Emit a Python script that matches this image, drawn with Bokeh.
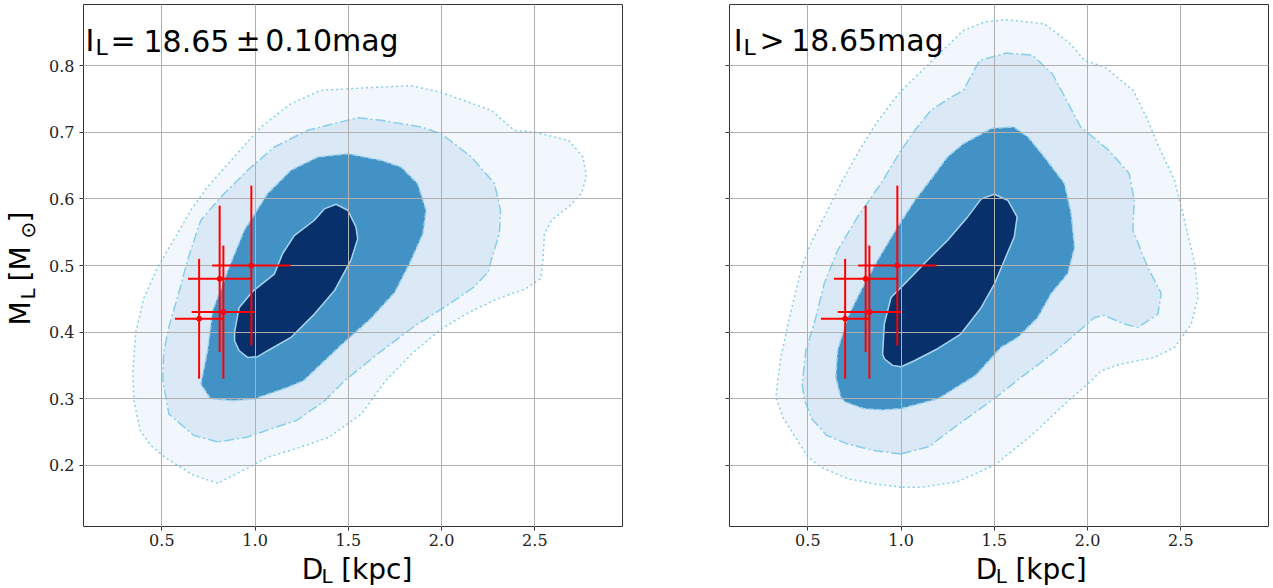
import numpy as np
from bokeh.plotting import figure
from bokeh.models import Label, FixedTicker, PrintfTickFormatter
from bokeh.layouts import row, column
from bokeh.core.properties import value
from bokeh.embed import file_html
from bokeh.resources import INLINE

# ---------------- data ----------------
x_ticks = [0.5, 1.0, 1.5, 2.0, 2.5]
y_ticks = [0.2, 0.3, 0.4, 0.5, 0.6, 0.7, 0.8]

# measured lens solutions (red crosses)
eb_D = [0.70, 0.81, 0.83, 0.98]
eb_M = [0.42, 0.48, 0.43, 0.50]
eb_Derr = [0.13, 0.17, 0.17, 0.21]
eb_Merr = [0.09, 0.11, 0.10, 0.12]

# left panel (I_L = 18.65 +- 0.10 mag): contour outlines, outer -> inner
left_c1_D = [0.80, 0.67, 0.516, 0.44, 0.384, 0.35, 0.345, 0.36, 0.405, 0.477, 0.584, 0.66, 0.745, 0.888, 1.031, 1.192, 1.353, 1.604, 1.836, 1.998, 2.266, 2.39, 2.50, 2.68, 2.758, 2.776, 2.75, 2.68, 2.59, 2.552, 2.543, 2.53, 2.45, 2.30, 2.15, 2.0, 1.85, 1.70, 1.57, 1.396, 1.22, 1.066, 0.956]
left_c1_M = [0.173, 0.185, 0.212, 0.23, 0.252, 0.297, 0.34, 0.40, 0.452, 0.497, 0.548, 0.585, 0.618, 0.663, 0.708, 0.743, 0.763, 0.767, 0.770, 0.760, 0.733, 0.703, 0.70, 0.688, 0.663, 0.633, 0.608, 0.588, 0.568, 0.548, 0.508, 0.48, 0.465, 0.45, 0.43, 0.405, 0.37, 0.327, 0.277, 0.242, 0.225, 0.212, 0.195]
left_c2_D = [0.80, 0.67, 0.538, 0.505, 0.51, 0.54, 0.584, 0.638, 0.709, 0.817, 0.96, 1.103, 1.282, 1.55, 1.676, 1.89, 1.998, 2.16, 2.284, 2.316, 2.31, 2.266, 2.25, 2.17, 2.03, 1.86, 1.67, 1.48, 1.374, 1.22, 1.088, 0.956]
left_c2_M = [0.235, 0.245, 0.277, 0.327, 0.37, 0.41, 0.452, 0.508, 0.568, 0.603, 0.643, 0.678, 0.703, 0.722, 0.718, 0.708, 0.698, 0.663, 0.623, 0.583, 0.548, 0.508, 0.49, 0.467, 0.44, 0.41, 0.37, 0.327, 0.297, 0.267, 0.255, 0.242]
left_c3_D = [0.89, 1.0, 1.176, 1.26, 1.46, 1.62, 1.75, 1.837, 1.90, 1.917, 1.872, 1.783, 1.676, 1.497, 1.336, 1.192, 1.067, 0.942, 0.853, 0.772, 0.745, 0.709, 0.76]
left_c3_M = [0.297, 0.30, 0.317, 0.327, 0.38, 0.42, 0.46, 0.508, 0.548, 0.583, 0.623, 0.648, 0.658, 0.668, 0.663, 0.643, 0.608, 0.553, 0.492, 0.432, 0.372, 0.322, 0.30]
left_c4_D = [0.89, 0.915, 0.99, 1.103, 1.148, 1.21, 1.318, 1.371, 1.434, 1.497, 1.541, 1.55, 1.514, 1.425, 1.318, 1.192, 1.067, 1.014, 0.96, 0.915, 0.89]
left_c4_M = [0.40, 0.437, 0.462, 0.487, 0.518, 0.545, 0.568, 0.585, 0.592, 0.583, 0.558, 0.54, 0.508, 0.462, 0.427, 0.392, 0.372, 0.363, 0.362, 0.372, 0.387]

# right panel (I_L > 18.65 mag)
right_c1_D = [1.0, 0.856, 0.713, 0.57, 0.498, 0.445, 0.37, 0.328, 0.355, 0.41, 0.47, 0.516, 0.588, 0.677, 0.776, 0.87, 0.987, 1.204, 1.334, 1.45, 1.562, 1.768, 1.90, 1.984, 2.093, 2.244, 2.32, 2.374, 2.466, 2.511, 2.574, 2.592, 2.556, 2.466, 2.359, 2.18, 2.073, 2.02, 1.87, 1.70, 1.5, 1.3, 1.107]
right_c1_M = [0.167, 0.172, 0.18, 0.197, 0.213, 0.237, 0.27, 0.302, 0.362, 0.432, 0.5, 0.533, 0.573, 0.623, 0.673, 0.715, 0.758, 0.818, 0.853, 0.866, 0.869, 0.863, 0.835, 0.808, 0.798, 0.763, 0.72, 0.683, 0.628, 0.578, 0.503, 0.452, 0.412, 0.377, 0.362, 0.352, 0.342, 0.327, 0.29, 0.245, 0.20, 0.175, 0.167]
right_c2_D = [1.0, 0.856, 0.713, 0.60, 0.52, 0.48, 0.47, 0.489, 0.543, 0.588, 0.66, 0.767, 0.892, 1.0, 1.074, 1.16, 1.269, 1.334, 1.421, 1.562, 1.703, 1.811, 1.963, 2.114, 2.223, 2.25, 2.243, 2.323, 2.395, 2.377, 2.27, 2.198, 2.09, 2.037, 1.894, 1.787, 1.643, 1.5, 1.3, 1.15]
right_c2_M = [0.217, 0.222, 0.232, 0.245, 0.27, 0.30, 0.322, 0.372, 0.422, 0.473, 0.523, 0.573, 0.623, 0.673, 0.703, 0.733, 0.753, 0.763, 0.808, 0.819, 0.816, 0.788, 0.708, 0.673, 0.638, 0.598, 0.553, 0.497, 0.458, 0.427, 0.407, 0.412, 0.425, 0.422, 0.387, 0.362, 0.332, 0.30, 0.26, 0.228]
right_c3_D = [0.9, 0.80, 0.70, 0.677, 0.65, 0.659, 0.713, 0.784, 0.874, 0.981, 1.074, 1.183, 1.248, 1.334, 1.486, 1.605, 1.681, 1.768, 1.876, 1.912, 1.93, 1.894, 1.805, 1.733, 1.626, 1.536, 1.4, 1.2, 1.0]
right_c3_M = [0.283, 0.285, 0.295, 0.302, 0.332, 0.372, 0.422, 0.462, 0.508, 0.558, 0.598, 0.638, 0.663, 0.683, 0.706, 0.708, 0.693, 0.663, 0.623, 0.578, 0.527, 0.488, 0.458, 0.422, 0.392, 0.377, 0.335, 0.30, 0.285]
right_c4_D = [0.901, 0.91, 0.946, 1.017, 1.142, 1.25, 1.357, 1.43, 1.50, 1.572, 1.622, 1.607, 1.554, 1.50, 1.43, 1.32, 1.196, 1.071, 1.0, 0.955, 0.91]
right_c4_M = [0.367, 0.412, 0.452, 0.472, 0.508, 0.538, 0.573, 0.60, 0.607, 0.598, 0.573, 0.543, 0.508, 0.472, 0.437, 0.397, 0.375, 0.357, 0.348, 0.35, 0.36]

# ---------------- style / layout ----------------
FILLS = ["#f2f7fd", "#dbe9f6", "#4292c6", "#08306b"]
DASHES = ["2 3", "10 3 2 3", "6 2", "solid"]
LINE_COLORS = ["#87ceeb", "#87ceeb", "#9fd3ef", "#a6d4ee"]
FRAME_W, FRAME_H, B_TOP, B_BOT = 539, 522, 4, 26
MAIN_H = B_TOP + FRAME_H + B_BOT      # 552
XLAB_H = 588 - MAIN_H                 # 36
YLAB_W = 44
FRAME_BOTTOM = B_TOP + FRAME_H        # 526
MID = 0.4                             # baseline -> "middle" offset (fraction of font size)


def add_label(p, fl, text, cx, cy, size):
    # cx, cy: left edge / baseline in the figure canvas (pixels from top-left)
    p.add_layout(Label(x=cx - fl, y=FRAME_BOTTOM - (cy - MID * size), x_units="screen", y_units="screen",
                       text=text, text_font="DejaVu Sans", text_font_size=f"{size}px",
                       text_color="black", text_align="left", text_baseline="middle"))


def make_panel(levels, fl, width, show_ylabels):
    br = width - fl - FRAME_W
    p = figure(width=width, height=MAIN_H, x_range=(0.08, 2.97), y_range=(0.108, 0.892),
               output_backend="svg", toolbar_location=None,
               min_border_left=fl, min_border_right=br,
               min_border_top=B_TOP, min_border_bottom=B_BOT)
    p.background_fill_color = "white"
    p.border_fill_color = "white"
    p.outline_line_color = "#333333"
    p.outline_line_width = 1

    for (dv, mv), fc, dash, lc in zip(levels, FILLS, DASHES, LINE_COLORS):
        p.patch(dv, mv, fill_color=fc, line_color=lc, line_width=1.5, line_dash=dash)

    D = np.array(eb_D)
    M = np.array(eb_M)
    dD = np.array(eb_Derr)
    dM = np.array(eb_Merr)
    p.segment(D - dD, M, D + dD, M, line_color="red", line_width=2, level="overlay")
    p.segment(D, M - dM, D, M + dM, line_color="red", line_width=2, level="overlay")
    p.scatter(D, M, size=5, color="red", level="overlay")

    p.xaxis.ticker = FixedTicker(ticks=x_ticks)
    p.yaxis.ticker = FixedTicker(ticks=y_ticks)
    p.xaxis.formatter = PrintfTickFormatter(format="%.1f")
    p.yaxis.formatter = PrintfTickFormatter(format="%.1f")
    for ax in (p.xaxis, p.yaxis):
        ax.axis_line_color = None
        ax.major_tick_out = 4
        ax.major_tick_in = 0
        ax.minor_tick_out = 0
        ax.minor_tick_in = 0
        ax.major_tick_line_color = "#333333"
        ax.major_label_text_font = "DejaVu Serif"
        ax.major_label_text_font_size = "16px"
        ax.major_label_text_color = "#222222"
        ax.major_label_standoff = 3
    p.yaxis.major_label_standoff = 5
    if not show_ylabels:
        p.yaxis.major_label_overrides = {t: "" for t in y_ticks}

    p.grid.grid_line_color = "#b0b0b0"
    p.grid.grid_line_width = 1
    p.grid.level = "annotation"
    return p


def blank_fig(w, h):
    f = figure(width=w, height=h, x_range=(0, w), y_range=(0, h), output_backend="svg",
               toolbar_location=None, x_axis_type=None, y_axis_type=None, min_border=0)
    f.outline_line_color = None
    f.background_fill_color = "white"
    f.border_fill_color = "white"
    f.xgrid.visible = False
    f.ygrid.visible = False
    return f


def add_text(f, h, text, cx, cy, size, angle=0.0):
    # cx, cy: start / baseline position in this figure's canvas (pixels from top-left)
    if angle == 0.0:
        x, y = cx, h - (cy - MID * size)
    else:
        x, y = cx - MID * size, h - cy
    f.text(x=[x], y=[y], text=[text], text_font=value("DejaVu Sans"), text_font_size=f"{size}px",
           text_color="black", text_align="left", text_baseline="middle", angle=angle)


# ---------------- left panel ----------------
W1 = 660 - YLAB_W
FL1 = 83 - YLAB_W
p1 = make_panel([(left_c1_D, left_c1_M), (left_c2_D, left_c2_M),
                 (left_c3_D, left_c3_M), (left_c4_D, left_c4_M)], FL1, W1, True)
OX1 = YLAB_W
add_label(p1, FL1, "I", 85 - OX1, 52, 30)
add_label(p1, FL1, "L", 95 - OX1, 56, 22)
add_label(p1, FL1, "=", 110 - OX1, 52, 30)
add_label(p1, FL1, "18.65", 143 - OX1, 52, 30)
add_label(p1, FL1, "±", 235 - OX1, 52, 30)
add_label(p1, FL1, "0.10mag", 264.7 - OX1, 52, 30)

xl1 = blank_fig(W1, XLAB_H)
add_text(xl1, XLAB_H, "D", 293.3 - OX1, 580 - MAIN_H, 28)
add_text(xl1, XLAB_H, "L", 316 - OX1, 583 - MAIN_H, 20)
add_text(xl1, XLAB_H, "[kpc]", 338.5 - OX1, 580 - MAIN_H, 28)

yl = blank_fig(YLAB_W, 588)
add_text(yl, 588, "M", 31, 325, 28, np.pi / 2)
add_text(yl, 588, "L", 35, 299, 20, np.pi / 2)
add_text(yl, 588, "[M", 31, 281, 28, np.pi / 2)
add_text(yl, 588, "⊙", 35, 238, 20, np.pi / 2)
add_text(yl, 588, "]", 31, 222, 28, np.pi / 2)

# ---------------- right panel ----------------
W2, FL2 = 613, 69
OX2 = 660
p2 = make_panel([(right_c1_D, right_c1_M), (right_c2_D, right_c2_M),
                 (right_c3_D, right_c3_M), (right_c4_D, right_c4_M)], FL2, W2, False)
add_label(p2, FL2, "I", 733.3 - OX2, 52, 30)
add_label(p2, FL2, "L", 743 - OX2, 56, 22)
add_label(p2, FL2, ">", 759 - OX2, 52, 30)
add_label(p2, FL2, "18.65mag", 790.7 - OX2, 52, 30)

xl2 = blank_fig(W2, XLAB_H)
add_text(xl2, XLAB_H, "D", 940 - OX2, 580 - MAIN_H, 28)
add_text(xl2, XLAB_H, "L", 962.7 - OX2, 583 - MAIN_H, 20)
add_text(xl2, XLAB_H, "[kpc]", 985.2 - OX2, 580 - MAIN_H, 28)

layout = row(yl, column(p1, xl1), column(p2, xl2))
open("out.html", "w").write(file_html(layout, INLINE, title="lens"))
